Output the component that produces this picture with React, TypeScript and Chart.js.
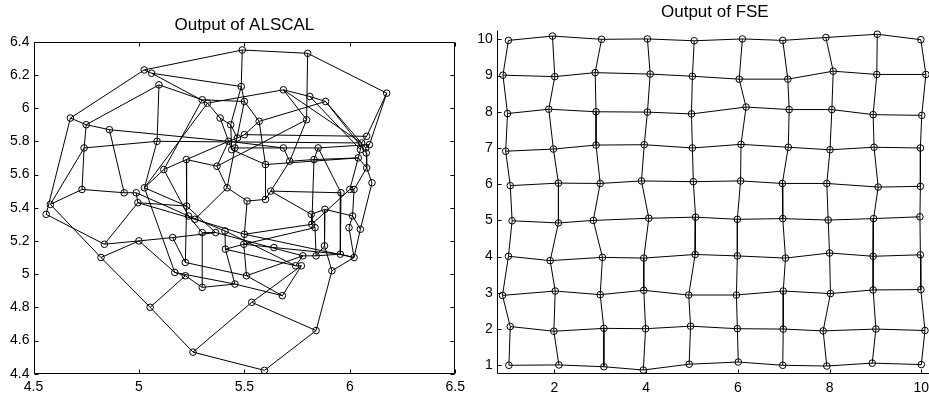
import React, { useEffect, useRef } from "react";
import { Chart, registerables } from "chart.js";
Chart.register(...registerables);

// ---------- Left panel: Output of ALSCAL ----------
const alsX = [
  5.49, 5.8, 5.025, 5.06, 5.095, 5.485, 6.175, 5.685, 5.81, 5.885,
  5.3, 5.325, 5.5, 4.675, 4.75, 4.86, 5.385, 5.435, 5.57, 5.795,
  5.086, 5.425, 5.467, 5.5, 5.44, 5.455, 4.74, 6.08, 6.056, 6.093,
  6.075, 6.078, 6.05, 5.685, 5.85, 5.715, 5.83, 5.6, 5.225, 5.37,
  5.118, 6.04, 6.08, 6.105, 4.73, 4.93, 4.987, 4.995, 5.026, 5.418,
  5.625, 4.58, 4.56, 5.226, 5.513, 5.6, 5.958, 6.0, 6.02, 5.817,
  5.882, 6.013, 5.235, 5.265, 5.82, 5.835, 5.996, 6.05, 5.3, 5.364,
  5.408, 5.5, 5.497, 5.16, 4.836, 5.0, 5.64, 5.88, 5.41, 5.84,
  5.777, 5.955, 6.02, 4.82, 5.22, 5.743, 5.77, 5.17, 5.22, 5.51,
  5.915, 5.3, 5.455, 5.68, 5.053, 5.535, 5.84, 5.256, 5.595,
];
const alsY = [
  6.35, 6.33, 6.23, 6.21, 6.14, 6.13, 6.09, 6.11, 6.07, 6.04,
  6.05, 6.03, 6.04, 5.94, 5.9, 5.87, 5.94, 5.9, 5.92, 5.93,
  5.8, 5.8, 5.82, 5.84, 5.75, 5.76, 5.76, 5.83, 5.79, 5.78,
  5.76, 5.73, 5.75, 5.76, 5.76, 5.68, 5.69, 5.66, 5.69, 5.65,
  5.63, 5.7, 5.64, 5.55, 5.51, 5.49, 5.49, 5.43, 5.52, 5.52,
  5.5, 5.42, 5.36, 5.41, 5.44, 5.45, 5.49, 5.51, 5.51, 5.36,
  5.39, 5.35, 5.35, 5.33, 5.3, 5.28, 5.28, 5.27, 5.25, 5.25,
  5.26, 5.24, 5.18, 5.22, 5.18, 5.2, 5.16, 5.17, 5.15, 5.11,
  5.11, 5.12, 5.1, 5.1, 5.07, 5.05, 5.05, 5.01, 4.99, 4.99,
  5.02, 4.92, 4.94, 4.87, 4.8, 4.83, 4.66, 4.53, 4.42,
];
const alsEdges: [number, number][] = [
  [0, 1], [0, 2], [0, 5], [1, 6], [1, 19], [6, 27], [6, 29], [2, 13], [2, 3], [3, 5],
  [3, 11], [4, 10], [4, 14], [4, 20], [5, 12], [5, 17], [7, 8], [7, 11], [7, 28], [7, 19],
  [8, 9], [8, 32], [9, 30], [9, 18], [9, 31], [10, 12], [10, 40], [11, 48], [11, 16], [12, 18],
  [12, 25], [13, 14], [13, 52], [14, 15], [14, 26], [15, 45], [15, 21], [16, 17], [16, 21], [17, 22],
  [18, 37], [18, 23], [19, 35], [19, 39], [20, 26], [20, 48], [20, 28], [26, 44], [26, 51], [51, 44],
  [51, 83], [52, 74], [44, 45], [45, 46], [74, 47], [74, 75], [83, 75], [83, 94], [75, 87], [75, 73],
  [94, 88], [94, 97], [97, 98], [97, 95], [98, 96], [96, 95], [96, 90], [95, 86], [88, 87], [88, 91],
  [84, 53], [84, 89], [87, 92], [91, 92], [91, 68], [92, 93], [89, 93], [89, 80], [72, 89], [71, 72],
  [46, 62], [47, 63], [48, 53], [62, 70], [63, 71], [53, 69], [69, 80], [70, 85], [71, 82], [72, 76],
  [76, 81], [73, 84], [73, 69], [68, 69], [68, 62], [78, 72], [78, 70], [78, 85], [78, 92], [62, 40],
  [38, 53], [38, 39], [38, 40], [38, 21], [39, 49], [39, 21], [49, 54], [49, 63], [49, 25], [54, 55],
  [54, 71], [55, 50], [55, 37], [50, 35], [50, 56], [37, 24], [37, 41], [33, 34], [33, 35], [33, 21],
  [34, 36], [34, 56], [34, 29], [36, 35], [36, 41], [36, 64], [41, 42], [42, 43], [43, 67], [42, 58],
  [41, 57], [57, 58], [56, 81], [57, 64], [58, 61], [61, 66], [61, 67], [66, 82], [67, 82], [60, 61],
  [60, 59], [59, 64], [64, 65], [65, 79], [60, 77], [77, 79], [77, 90], [79, 81], [80, 79], [80, 85],
  [85, 86], [86, 93], [81, 82], [82, 90], [59, 50], [65, 72], [64, 71], [22, 23], [21, 22], [24, 25],
  [21, 24], [23, 27], [27, 28], [28, 32], [29, 30], [30, 31], [31, 42], [32, 41], [17, 24], [25, 33],
  [46, 47], [40, 48], [47, 53], [48, 87],
];
const alsXTicks = [4.5, 5, 5.5, 6, 6.5];
const alsXLabels = ["4.5", "5", "5.5", "6", "6.5"];
const alsYTicks = [4.4, 4.6, 4.8, 5, 5.2, 5.4, 5.6, 5.8, 6, 6.2, 6.4];
const alsYLabels = ["4.4", "4.6", "4.8", "5", "5.2", "5.4", "5.6", "5.8", "6", "6.2", "6.4"];

// ---------- Right panel: Output of FSE (rows from top, y≈10, to bottom, y≈1) ----------
const fseX = [
  [1.0, 1.96, 3.03, 4.03, 5.05, 6.1, 6.98, 7.92, 9.04, 9.99],
  [0.88, 2.01, 2.89, 4.09, 5.01, 6.03, 7.09, 8.08, 9.03, 10.1],
  [0.98, 1.88, 2.91, 4.03, 4.99, 6.18, 7.12, 8.05, 8.95, 10.01],
  [0.94, 1.98, 2.91, 3.96, 5.01, 6.07, 7.1, 8.01, 8.97, 9.98],
  [1.04, 2.09, 3.0, 3.9, 5.03, 6.06, 6.97, 7.94, 9.06, 9.98],
  [1.08, 2.09, 2.85, 4.06, 5.08, 5.99, 6.98, 7.97, 8.96, 9.97],
  [1.0, 1.91, 3.05, 3.95, 5.07, 5.99, 7.04, 8.0, 8.95, 9.98],
  [0.87, 2.02, 3.0, 3.95, 4.93, 5.97, 6.99, 8.02, 8.95, 9.99],
  [1.04, 1.99, 3.08, 3.99, 4.97, 5.99, 6.99, 7.86, 9.01, 10.08],
  [1.01, 2.1, 3.08, 3.94, 4.94, 6.01, 6.98, 7.94, 8.93, 10.0],
];
const fseY = [
  [9.97, 10.09, 10.0, 10.01, 9.96, 10.01, 9.97, 10.05, 10.14, 9.99],
  [9.01, 8.97, 9.08, 9.04, 8.98, 8.9, 8.9, 9.12, 9.03, 9.03],
  [7.95, 8.07, 8.0, 7.99, 7.94, 8.13, 8.06, 8.06, 7.92, 7.9],
  [6.91, 6.97, 7.08, 7.09, 7.0, 7.1, 7.02, 6.95, 7.02, 7.0],
  [5.96, 6.03, 6.02, 6.09, 6.07, 6.09, 6.02, 6.02, 5.92, 5.94],
  [4.99, 4.93, 5.0, 5.06, 5.09, 5.03, 5.05, 5.01, 5.05, 5.1],
  [4.01, 3.89, 3.98, 3.96, 4.06, 4.02, 3.96, 4.1, 4.01, 4.05],
  [2.93, 3.05, 2.95, 3.07, 2.94, 2.94, 3.05, 2.98, 3.08, 3.09],
  [2.07, 1.94, 2.02, 2.01, 2.08, 2.01, 2.0, 1.95, 2.0, 1.96],
  [1.0, 1.01, 0.96, 0.87, 1.03, 1.09, 1.0, 0.98, 1.06, 1.02],
];
const fseXTicks = [2, 4, 6, 8, 10];
const fseXLabels = ["2", "4", "6", "8", "10"];
const fseYTicks = [1, 2, 3, 4, 5, 6, 7, 8, 9, 10];
const fseYLabels = ["1", "2", "3", "4", "5", "6", "7", "8", "9", "10"];

const FONT = "'Liberation Sans', Arial, Helvetica, sans-serif";

type P = { x: number | null; y: number | null };

function segmentsFromEdges(xs: number[], ys: number[], edges: [number, number][]): P[] {
  const out: P[] = [];
  edges.forEach(([a, b]) => {
    out.push({ x: xs[a], y: ys[a] }, { x: xs[b], y: ys[b] }, { x: null, y: null });
  });
  return out;
}

function gridEdges(rows: number, cols: number): [number, number][] {
  const e: [number, number][] = [];
  for (let r = 0; r < rows; r++)
    for (let c = 0; c < cols; c++) {
      const i = r * cols + c;
      if (c + 1 < cols) e.push([i, i + 1]);
      if (r + 1 < rows) e.push([i, i + cols]);
    }
  return e;
}

function axesPlugin(box: boolean) {
  return {
    id: "matlabAxes",
    afterDatasetsDraw(chart: any) {
      const { ctx, chartArea: a, scales } = chart;
      const L = Math.round(a.left) + 0.5;
      const R = Math.round(a.right) - 0.5;
      const T = Math.round(a.top) + 0.5;
      const B = Math.round(a.bottom) - 0.5;
      const len = 4;
      ctx.save();
      ctx.strokeStyle = "#000";
      ctx.lineWidth = 1;
      ctx.beginPath();
      if (box) {
        ctx.moveTo(L, T);
        ctx.lineTo(R, T);
        ctx.lineTo(R, B);
        ctx.lineTo(L, B);
        ctx.closePath();
      } else {
        ctx.moveTo(L, T);
        ctx.lineTo(L, B);
        ctx.lineTo(chart.width, B);
      }
      scales.x.ticks.forEach((t: any) => {
        const px = Math.round(scales.x.getPixelForValue(t.value)) + 0.5;
        ctx.moveTo(px, B);
        ctx.lineTo(px, B - len);
        if (box) {
          ctx.moveTo(px, T);
          ctx.lineTo(px, T + len);
        }
      });
      scales.y.ticks.forEach((t: any) => {
        const py = Math.round(scales.y.getPixelForValue(t.value)) + 0.5;
        ctx.moveTo(L, py);
        ctx.lineTo(L + len, py);
        if (box) {
          ctx.moveTo(R, py);
          ctx.lineTo(R - len, py);
        }
      });
      ctx.stroke();
      ctx.restore();
    },
  };
}

type PanelCfg = {
  title: string;
  titlePad: { top: number; bottom: number };
  lines: P[];
  points: P[];
  xMin: number; xMax: number; yMin: number; yMax: number;
  xTicks: number[]; xLabels: string[];
  yTicks: number[]; yLabels: string[];
  yWidth: number; xHeight: number; padRight: number;
  box: boolean;
  xLabelPad: number; yLabelPad: number;
};

function makeConfig(c: PanelCfg): any {
  return {
    type: "scatter",
    data: {
      datasets: [
        {
          data: c.lines,
          showLine: true,
          spanGaps: false,
          borderColor: "#000",
          borderWidth: 1,
          pointRadius: 0,
          pointHoverRadius: 0,
        },
        {
          data: c.points,
          showLine: false,
          pointStyle: "circle",
          pointRadius: 3.3,
          pointBorderWidth: 1,
          pointBorderColor: "#000",
          pointBackgroundColor: "rgba(0,0,0,0)",
          pointHoverRadius: 3.3,
        },
      ],
    },
    options: {
      responsive: false,
      animation: false,
      events: [],
      layout: { padding: { left: 0, right: c.padRight, top: 0, bottom: 0 } },
      plugins: {
        legend: { display: false },
        tooltip: { enabled: false },
        title: {
          display: true,
          text: c.title,
          fullSize: false,
          color: "#000",
          font: { family: FONT, size: 17, weight: "normal", lineHeight: 1.2 },
          padding: c.titlePad,
        },
      },
      scales: {
        x: {
          type: "linear",
          min: c.xMin,
          max: c.xMax,
          grid: { display: false, drawTicks: false },
          border: { display: false },
          afterBuildTicks: (s: any) => {
            s.ticks = c.xTicks.map((v) => ({ value: v }));
          },
          afterFit: (s: any) => {
            s.height = c.xHeight;
          },
          ticks: {
            color: "#000",
            padding: c.xLabelPad,
            maxRotation: 0,
            autoSkip: false,
            font: { family: FONT, size: 14 },
            callback: (_v: any, i: number) => c.xLabels[i],
          },
        },
        y: {
          type: "linear",
          min: c.yMin,
          max: c.yMax,
          grid: { display: false, drawTicks: false },
          border: { display: false },
          afterBuildTicks: (s: any) => {
            s.ticks = c.yTicks.map((v) => ({ value: v }));
          },
          afterFit: (s: any) => {
            s.width = c.yWidth;
          },
          ticks: {
            color: "#000",
            padding: c.yLabelPad,
            autoSkip: false,
            font: { family: FONT, size: 14 },
            callback: (_v: any, i: number) => c.yLabels[i],
          },
        },
      },
    },
    plugins: [axesPlugin(c.box)],
  };
}

function Panel({ cfg, left, width }: { cfg: PanelCfg; left: number; width: number }) {
  const ref = useRef<HTMLCanvasElement | null>(null);
  useEffect(() => {
    if (!ref.current) return;
    const chart = new Chart(ref.current, makeConfig(cfg));
    return () => chart.destroy();
  }, []);
  return (
    <canvas
      ref={ref}
      width={width}
      height={397}
      style={{ position: "absolute", left, top: 0, width, height: 397 }}
    />
  );
}

export default function App() {
  const alsPoints: P[] = alsX.map((x, i) => ({ x, y: alsY[i] }));
  const alsLines = segmentsFromEdges(alsX, alsY, alsEdges);

  const fxs = fseX.flat();
  const fys = fseY.flat();
  const fsePoints: P[] = fxs.map((x, i) => ({ x, y: fys[i] }));
  const fseLines = segmentsFromEdges(fxs, fys, gridEdges(10, 10));

  const leftCfg: PanelCfg = {
    title: "Output of ALSCAL",
    titlePad: { top: 14.8, bottom: 6.5 },
    lines: alsLines,
    points: alsPoints,
    xMin: 4.5, xMax: 6.5, yMin: 4.4, yMax: 6.4,
    xTicks: alsXTicks, xLabels: alsXLabels,
    yTicks: alsYTicks, yLabels: alsYLabels,
    yWidth: 33.5, xHeight: 23.3, padRight: 14,
    box: true, xLabelPad: 5, yLabelPad: 4,
  };
  const rightCfg: PanelCfg = {
    title: "Output of FSE",
    titlePad: { top: 1.8, bottom: 7.8 },
    lines: fseLines,
    points: fsePoints,
    xMin: 0.744, xMax: 10.255, yMin: 0.768, yMax: 10.257,
    xTicks: fseXTicks, xLabels: fseXLabels,
    yTicks: fseYTicks, yLabels: fseYLabels,
    yWidth: 26.7, xHeight: 23.3, padRight: 10,
    box: false, xLabelPad: 6, yLabelPad: 4,
  };

  return (
    <div
      style={{
        position: "fixed",
        left: 0,
        top: 0,
        width: 929,
        height: 397,
        overflow: "hidden",
        background: "#fff",
      }}
    >
      <Panel cfg={leftCfg} left={0} width={470} />
      <Panel cfg={rightCfg} left={470} width={473} />
    </div>
  );
}
